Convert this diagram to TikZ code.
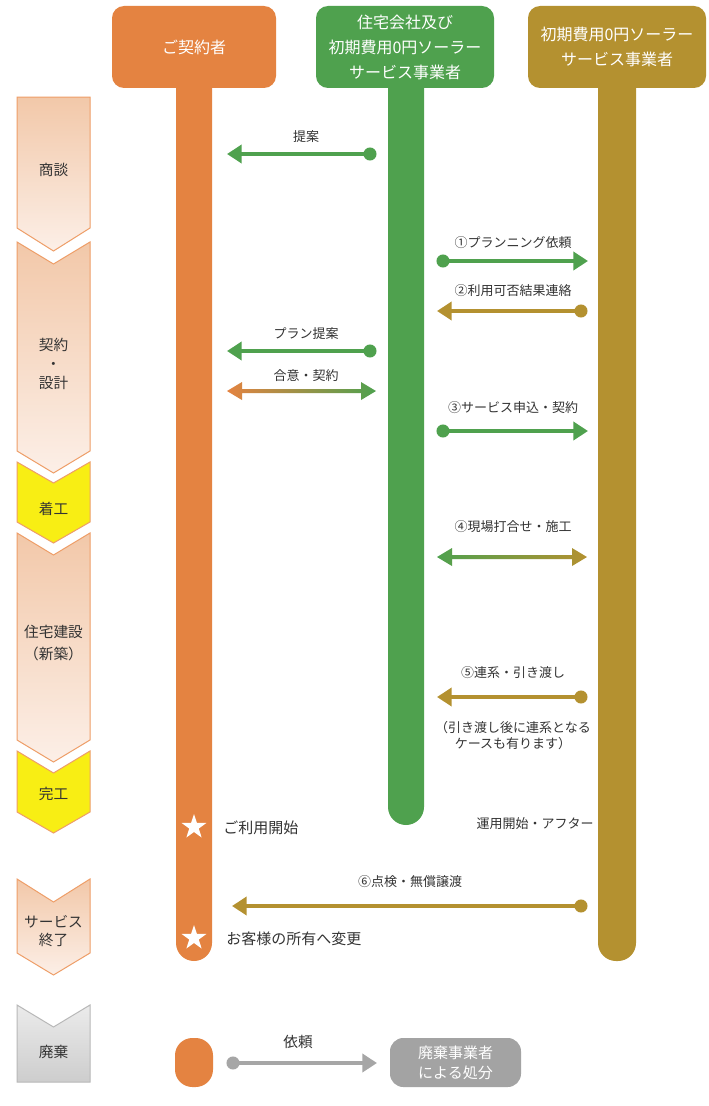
\documentclass[tikz,border=0pt]{standalone}
\usepackage{fontspec}
\setmainfont{Noto Sans CJK JP}
\usetikzlibrary{arrows.meta,shapes.geometric}
\definecolor{cOr}{HTML}{E48341}
\definecolor{cGr}{HTML}{4FA14E}
\definecolor{cGo}{HTML}{B49130}
\definecolor{cGy}{HTML}{A6A6A6}
\definecolor{cBox}{HTML}{A3A3A3}
\definecolor{cTx}{HTML}{333333}
\definecolor{chTop}{HTML}{F2C8A9}
\definecolor{chBot}{HTML}{FCEFE7}
\definecolor{chLine}{HTML}{EE9E68}
\definecolor{cYe}{HTML}{F8EE14}
\definecolor{gyTop}{HTML}{EBEBEB}
\definecolor{gyBot}{HTML}{CDCDCD}
\definecolor{gyLine}{HTML}{B8B8B8}
\begin{document}
\begin{tikzpicture}[x=0.75pt,y=-0.75pt,
  hdr/.style={rounded corners=9pt, minimum height=61.5pt, inner sep=0pt, text=white, align=center, font=\fontsize{12}{18.75}\selectfont},
  lbl/.style={text=cTx, font=\fontsize{9.75}{13}\selectfont, inner sep=0pt, align=center},
  big/.style={text=cTx, font=\fontsize{11.25}{14}\selectfont, inner sep=0pt, anchor=west},
  phase/.style={text=cTx, font=\fontsize{11}{14.25}\selectfont, align=center, inner sep=0pt},
  msg/.style={line width=3pt, -{Triangle[length=11pt,width=13.5pt]}},
  dot/.style={circle, inner sep=0pt, minimum size=9.75pt},
  chev/.style={top color=chTop, bottom color=chBot, draw=chLine, line width=0.75pt},
  chevY/.style={fill=cYe, draw=chLine, line width=0.75pt},
  chevG/.style={top color=gyTop, bottom color=gyBot, draw=gyLine, line width=0.75pt},
  starmark/.style={star, star points=5, star point ratio=2.6, fill=white, inner sep=0pt, minimum size=19.5pt}
]
\fill[white] (0,0) rectangle (708,1106);
\useasboundingbox (0,0) rectangle (708,1106);

% lanes
\fill[cOr, rounded corners=13.5pt] (176,60) rectangle (212,961);
\fill[cGr, rounded corners=13.5pt] (388,60) rectangle (424,825);
\fill[cGo, rounded corners=13.5pt] (598,60) rectangle (636,961);

% headers
\node[hdr, fill=cOr, minimum width=123pt] (h1) at (194,47) {ご契約者};
\node[hdr, fill=cGr, minimum width=133.5pt] (h2) at (405,47) {住宅会社及び\\初期費用0円ソーラー\\サービス事業者};
\node[hdr, fill=cGo, minimum width=133.5pt] (h3) at (617,47) {初期費用0円ソーラー\\サービス事業者};

% phase chevrons
\shadedraw[chev] (17,97) -- (90,97) -- (90,228) -- (53.5,251) -- (17,228) -- cycle;
\node[phase] (p1) at (53.5,170) {商談};
\shadedraw[chev] (17,242) -- (53.5,264) -- (90,242) -- (90,451) -- (53.5,473) -- (17,451) -- cycle;
\node[phase] (p2) at (53.5,364) {契約\\・\\設計};
\filldraw[chevY] (17,462) -- (53.5,483) -- (90,462) -- (90,522) -- (53.5,543) -- (17,522) -- cycle;
\node[phase] (p3) at (53.5,509) {着工};
\shadedraw[chev] (17,533) -- (53.5,555) -- (90,533) -- (90,740) -- (53.5,762) -- (17,740) -- cycle;
\node[phase, font=\fontsize{11}{17}\selectfont] (p4) at (53.5,643) {住宅建設\\（新築）};
\filldraw[chevY] (17,751) -- (53.5,773) -- (90,751) -- (90,812) -- (53.5,833) -- (17,812) -- cycle;
\node[phase] (p5) at (53.5,794) {完工};
\shadedraw[chev] (17,879) -- (53.5,902) -- (90,879) -- (90,953) -- (53.5,975) -- (17,953) -- cycle;
\node[phase, font=\fontsize{11}{13.5}\selectfont] (p6) at (53.5,931) {サービス\\終了};
\shadedraw[chevG] (17,1005) -- (53.5,1027) -- (90,1005) -- (90,1082) -- (17,1082) -- cycle;
\node[phase] (p7) at (53.5,1052) {廃棄};

% messages
\coordinate (m1a) at (370,154); \coordinate (m1b) at (227,154);
\draw[msg, cGr] (m1a) -- (m1b); \fill[cGr] (m1a) circle (4.9pt);
\node[lbl] (l1) at (306,137) {提案};

\coordinate (m2a) at (443,261); \coordinate (m2b) at (588,261);
\draw[msg, cGr] (m2a) -- (m2b); \fill[cGr] (m2a) circle (4.9pt);
\node[lbl] (l2) at (513,243) {①プランニング依頼};

\coordinate (m3a) at (581,311); \coordinate (m3b) at (437,311);
\draw[msg, cGo] (m3a) -- (m3b); \fill[cGo] (m3a) circle (4.9pt);
\node[lbl] (l3) at (513,291) {②利用可否結果連絡};

\coordinate (m4a) at (370,351); \coordinate (m4b) at (227,351);
\draw[msg, cGr] (m4a) -- (m4b); \fill[cGr] (m4a) circle (4.9pt);
\node[lbl] (l4) at (306,334) {プラン提案};

% double gradient arrow 合意・契約
\shade[left color=cOr, right color=cGr] (227,391) -- (242,382) -- (242,389) -- (361,389) -- (361,382) -- (376,391) -- (361,400) -- (361,393) -- (242,393) -- (242,400) -- cycle;
\node[lbl] (l5) at (306,376) {合意・契約};

\coordinate (m6a) at (443,431); \coordinate (m6b) at (588,431);
\draw[msg, cGr] (m6a) -- (m6b); \fill[cGr] (m6a) circle (4.9pt);
\node[lbl] (l6) at (513,408) {③サービス申込・契約};

% double gradient arrow 4
\shade[left color=cGr, right color=cGo] (437,557) -- (452,548) -- (452,555) -- (572,555) -- (572,548) -- (587,557) -- (572,566) -- (572,559) -- (452,559) -- (452,566) -- cycle;
\node[lbl] (l7) at (513,527) {④現場打合せ・施工};

\coordinate (m8a) at (581,697); \coordinate (m8b) at (437,697);
\draw[msg, cGo] (m8a) -- (m8b); \fill[cGo] (m8a) circle (4.9pt);
\node[lbl] (l8) at (513,673) {⑤連系・引き渡し};
\node[lbl, font=\fontsize{9.75}{12}\selectfont] (l9) at (513,736) {（引き渡し後に連系となる\\ケースも有ります）};

\node[lbl] (l10) at (535,824) {運用開始・アフター};

\coordinate (m9a) at (581,906); \coordinate (m9b) at (232,906);
\draw[msg, cGo] (m9a) -- (m9b); \fill[cGo] (m9a) circle (4.9pt);
\node[lbl] (l11) at (410,882) {⑥点検・無償譲渡};

% stars
\node[starmark] (s1) at (194,827) {};
\node[big] (t1) at (223,828) {ご利用開始};
\node[starmark] (s2) at (194,938) {};
\node[big] (t2) at (226,939) {お客様の所有へ変更};

% legend
\node[fill=cOr, rounded corners=13pt, minimum width=28.5pt, minimum height=36.75pt, inner sep=0pt] (lg1) at (194,1062.5) {};
\node[fill=cBox, rounded corners=10pt, minimum width=98.25pt, minimum height=36.75pt, inner sep=0pt, text=white, align=center, font=\fontsize{11.25}{15}\selectfont] (lg2) at (455.5,1062.5) {廃棄事業者\\による処分};
\coordinate (lga) at (233,1063); \coordinate (lgb) at (377,1063);
\draw[msg, cGy] (lga) -- (lgb); \fill[cGy] (lga) circle (4.9pt);
\node[lbl, font=\fontsize{11}{13}\selectfont] (l12) at (298,1042) {依頼};
\end{tikzpicture}
\end{document}
